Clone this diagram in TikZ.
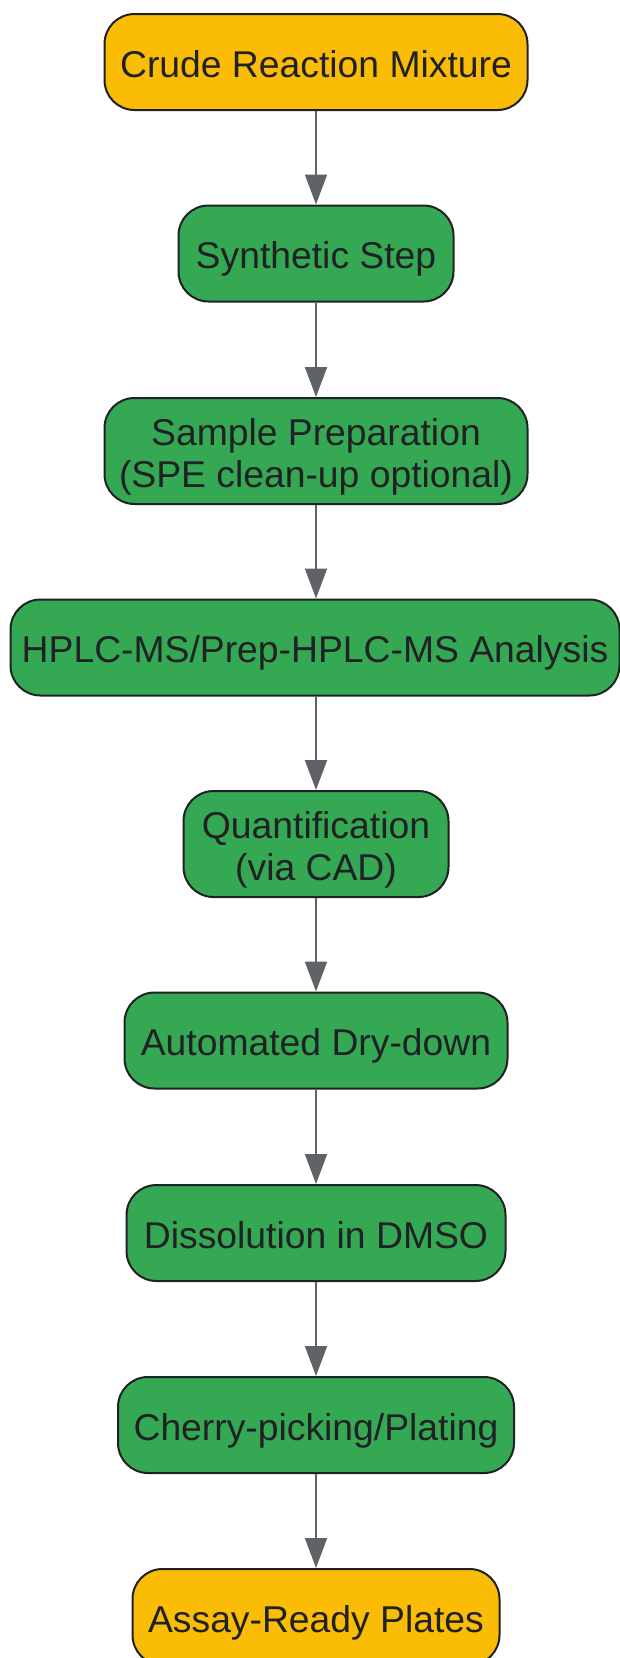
\documentclass[tikz,border=0pt]{standalone}
\usepackage{fontspec}
\setmainfont{Liberation Sans}
\usetikzlibrary{arrows.meta}
\definecolor{gold}{HTML}{FBBC05}
\definecolor{leaf}{HTML}{34A853}
\definecolor{ink}{HTML}{202124}
\definecolor{wire}{HTML}{5F6368}
\tikzset{
  x=1pt,y=1pt,
  stepbox/.style={draw=ink, line width=2pt, rounded corners=30pt, align=center,
    text=ink, font=\fontsize{37.3}{42}\selectfont, inner sep=0pt, minimum height=96pt,
    text height=32pt, text depth=2pt},
  twoline/.style={minimum height=106pt, text height=74pt, text depth=1pt},
  startbox/.style={stepbox, fill=gold},
  procbox/.style={stepbox, fill=leaf},
  flow/.style={draw=wire, line width=2pt, -{Triangle[length=30pt,width=22pt]}}
}
\begin{document}
\begin{tikzpicture}
\useasboundingbox (0,0) rectangle (620,-1658);
\node[startbox, minimum width=423pt] (n1) at (316,-62) {Crude Reaction Mixture};
\node[procbox, minimum width=275pt] (n2) at (316,-253.5) {Synthetic Step};
\node[procbox, twoline, minimum width=423pt] (n3) at (316,-451) {Sample Preparation\\(SPE clean-up optional)};
\node[procbox, minimum width=609pt] (n4) at (315,-647.5) {HPLC-MS/Prep-HPLC-MS Analysis};
\node[procbox, twoline, minimum width=265pt] (n5) at (316,-844) {Quantification\\(via CAD)};
\node[procbox, minimum width=383pt] (n6) at (316,-1040.5) {Automated Dry-down};
\node[procbox, minimum width=379pt] (n7) at (316,-1233) {Dissolution in DMSO};
\node[procbox, minimum width=396pt] (n8) at (316,-1425) {Cherry-picking/Plating};
\node[startbox, minimum width=367pt] (n9) at (316,-1617) {Assay-Ready Plates};
\draw[flow] (n1) -- (n2);
\draw[flow] (n2) -- (n3);
\draw[flow] (n3) -- (n4.north -| n3.south);
\draw[flow] (n4.south -| n3.south) -- (n5);
\draw[flow] (n5) -- (n6);
\draw[flow] (n6) -- (n7);
\draw[flow] (n7) -- (n8);
\draw[flow] (n8) -- (n9);
\end{tikzpicture}
\end{document}
